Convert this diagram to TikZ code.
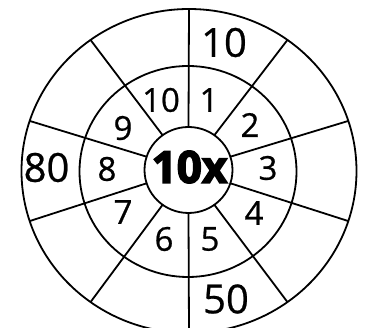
\documentclass[tikz,border=0pt]{standalone}
\usepackage{fontspec}
\setmainfont{Open Sans}
\newfontfamily\heavy{Open Sans}[FakeBold=3.5]
\newfontfamily\numf{Open Sans}[FakeBold=0.6]
\begin{document}
\begin{tikzpicture}[x=1pt,y=-1pt,
  ring/.style={line width=1.8pt},
  mid/.style={font=\numf\fontsize{33}{33}\selectfont, inner sep=0pt},
  outl/.style={font=\numf\fontsize{40}{40}\selectfont, inner sep=0pt},
  hub/.style={font=\heavy\bfseries\fontsize{44}{44}\selectfont, inner sep=0pt}]
\useasboundingbox (0,0) rectangle (365,328);
\begin{scope}
\clip (0,0) rectangle (365,328);
\draw[ring] (189,171) ellipse [x radius=167.5, y radius=162];
\draw[ring] (188,171.5) ellipse [x radius=108.5, y radius=105.5];
\draw[ring] (188.5,170) ellipse [x radius=44, y radius=43];
\foreach \a in {90,54,18,-18,-54,-90,-126,-162,162,126}
  \draw[ring] ({188.5+44*cos(\a)},{170-43*sin(\a)}) -- ({189+167.5*cos(\a)},{171-162*sin(\a)});
\end{scope}
\node[hub] (c) at (189.5,167) {10x};
\node[mid] (m1) at (209,100) {1};
\node[mid] (m2) at (250,125) {2};
\node[mid] (m3) at (268,168) {3};
\node[mid] (m4) at (254,213) {4};
\node[mid] (m5) at (210,239) {5};
\node[mid] (m6) at (164,239) {6};
\node[mid] (m7) at (123,212) {7};
\node[mid] (m8) at (107,169) {8};
\node[mid] (m9) at (123,128) {9};
\node[mid] (m10) at (161,100) {10};
\node[outl] (o1) at (224,42.5) {10};
\node[outl] (o8) at (46.5,167.5) {80};
\node[outl] (o5) at (226,299) {50};
\end{tikzpicture}
\end{document}
